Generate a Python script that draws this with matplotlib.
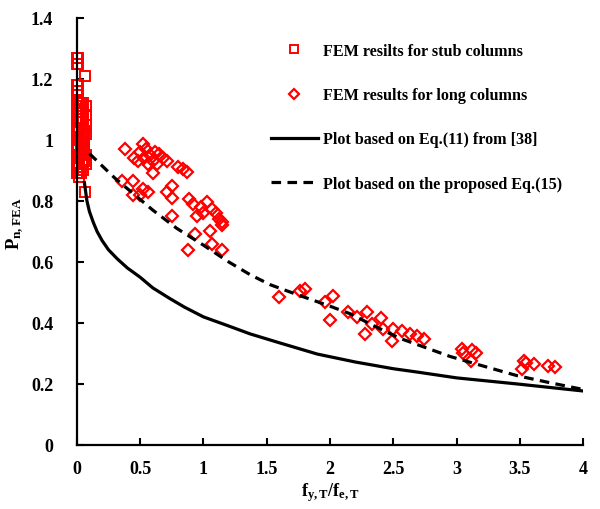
import matplotlib
matplotlib.use('Agg')
import matplotlib.pyplot as plt
import numpy as np

# FEM results, stub columns
stub_x = [0.005, 0.01, 0.005, 0.01, 0.065, 0.005, 0.01, 0.005, 0.01, 0.005, 0.01,
          0.02, 0.03, 0.04, 0.05, 0.005, 0.01, 0.02, 0.03, 0.04, 0.05, 0.07,
          0.005, 0.01, 0.02, 0.03, 0.05, 0.07, 0.005, 0.01, 0.02, 0.04, 0.06,
          0.005, 0.01, 0.02, 0.03, 0.05, 0.07, 0.005, 0.01, 0.03, 0.04, 0.06,
          0.005, 0.01, 0.02, 0.03, 0.05, 0.07, 0.005, 0.01, 0.02, 0.04, 0.06,
          0.0, 0.01, 0.02, 0.03, 0.05, 0.065, 0.07, 0.06, 0.07]
stub_y = [1.27, 1.27, 1.25, 1.25, 1.21, 1.18, 1.18, 1.16, 1.16, 1.13, 1.13,
          1.12, 1.12, 1.11, 1.12, 1.10, 1.10, 1.09, 1.09, 1.10, 1.09, 1.11,
          1.07, 1.07, 1.06, 1.06, 1.07, 1.08, 1.04, 1.04, 1.03, 1.04, 1.03,
          1.01, 1.01, 1.00, 1.00, 1.01, 1.02, 0.98, 0.98, 0.97, 0.98, 0.99,
          0.95, 0.95, 0.94, 0.95, 0.96, 0.95, 0.92, 0.92, 0.91, 0.92, 0.93,
          0.89, 0.89, 0.88, 0.89, 0.90, 0.83, 1.05, 0.97, 0.92]

# FEM results, long columns
long_x = [0.38, 0.45, 0.50, 0.52, 0.55, 0.48, 0.53, 0.58, 0.62, 0.56, 0.60,
          0.65, 0.68, 0.63, 0.71, 0.60, 0.80, 0.84, 0.87,
          0.36, 0.44, 0.44, 0.52, 0.50, 0.56, 0.75, 0.71, 0.75, 0.75,
          0.89, 0.92, 0.95, 1.00, 1.03, 1.07, 1.10, 1.12, 1.15, 1.05, 1.15,
          0.93, 0.88, 1.07, 1.15, 0.98,
          1.60, 1.76, 1.80, 1.96, 2.02, 2.00, 2.14, 2.21, 2.29, 2.28, 2.33,
          2.40, 2.42, 2.49, 2.50, 2.57, 2.63, 2.69, 2.74,
          3.04, 3.05, 3.12, 3.15, 3.11,
          3.53, 3.52, 3.61, 3.72, 3.78, 3.55]
long_y = [0.97, 0.94, 0.96, 0.985, 0.97, 0.93, 0.94, 0.95, 0.96, 0.92, 0.93,
          0.955, 0.94, 0.92, 0.93, 0.89, 0.91, 0.905, 0.895,
          0.865, 0.865, 0.82, 0.84, 0.82, 0.83, 0.85, 0.83, 0.81, 0.75,
          0.805, 0.79, 0.75, 0.76, 0.795, 0.775, 0.76, 0.74, 0.72, 0.70, 0.73,
          0.69, 0.64, 0.66, 0.64, 0.78,
          0.485, 0.505, 0.51, 0.47, 0.49, 0.41, 0.435, 0.42, 0.436, 0.364, 0.397,
          0.416, 0.38, 0.34, 0.38, 0.374, 0.364, 0.357, 0.348,
          0.315, 0.30, 0.31, 0.30, 0.276,
          0.275, 0.25, 0.266, 0.26, 0.255, 0.27]

# Eq.(11) from [38]
eq11_x = [0.06, 0.07, 0.08, 0.10, 0.13, 0.16, 0.20, 0.25, 0.32, 0.40, 0.50,
          0.60, 0.735, 0.85, 1.0, 1.2, 1.37, 1.6, 1.9, 2.2, 2.5, 2.69, 3.0,
          3.48, 3.75, 4.0]
eq11_y = [0.86, 0.83, 0.80, 0.765, 0.73, 0.70, 0.67, 0.64, 0.61, 0.58, 0.55,
          0.515, 0.48, 0.452, 0.42, 0.39, 0.364, 0.335, 0.298, 0.272, 0.25,
          0.239, 0.22, 0.20, 0.188, 0.177]

# proposed Eq.(15)
eq15_x = [0.10, 0.20, 0.30, 0.40, 0.50, 0.60, 0.79, 1.0, 1.2, 1.37, 1.53,
          1.76, 2.0, 2.16, 2.35, 2.55, 2.75, 2.95, 3.2, 3.48, 3.75, 4.0]
eq15_y = [0.955, 0.915, 0.875, 0.84, 0.805, 0.77, 0.71, 0.655, 0.60, 0.558,
          0.525, 0.49, 0.455, 0.43, 0.39, 0.35, 0.32, 0.29, 0.26, 0.227,
          0.203, 0.182]

plt.rcParams['font.family'] = 'Liberation Serif'
plt.rcParams['font.weight'] = 'bold'
plt.rcParams['mathtext.fontset'] = 'custom'
plt.rcParams['mathtext.rm'] = 'Liberation Serif:bold'
plt.rcParams['mathtext.it'] = 'Liberation Serif:bold'

fig = plt.figure(figsize=(6, 5.1), dpi=100)
ax = fig.add_axes([0.128, 0.1255, 0.844, 0.8375])

ax.plot(stub_x, stub_y, 's', ms=6.5, mfc='none', mec='red', mew=1.4,
        label='FEM resilts for stub columns', clip_on=False)
ax.plot(long_x, long_y, 'D', ms=6.5, mfc='none', mec='red', mew=1.6,
        label='FEM results for long columns')
ax.plot(eq11_x, eq11_y, '-', color='black', lw=2.3,
        label='Plot based on Eq.(11) from [38]')
ax.plot(eq15_x, eq15_y, '--', color='black', lw=2.3, dashes=(3, 2),
        label='Plot based on the proposed Eq.(15)')

ax.set_xlim(0, 4)
ax.set_ylim(0, 1.4)
ax.set_xticks(np.arange(0, 4.01, 0.5))
ax.set_xticklabels(['0', '0.5', '1', '1.5', '2', '2.5', '3', '3.5', '4'])
ax.set_yticks(np.arange(0, 1.41, 0.2))
ax.set_yticklabels(['0', '0.2', '0.4', '0.6', '0.8', '1', '1.2', '1.4'])
ax.tick_params(direction='in', length=5, width=1.5, labelsize=13)
ax.tick_params(axis='x', pad=11)
ax.tick_params(axis='y', pad=17)
for s in ['top', 'right']:
    ax.spines[s].set_visible(False)
for s in ['left', 'bottom']:
    ax.spines[s].set_linewidth(1.6)

ax.set_xlabel(r'$\mathrm{f_{y,T}/f_{e,T}}$', fontsize=13, labelpad=2)
ax.set_ylabel(r'$\mathrm{P_{n,FEA}}$', fontsize=13.5)
ax.yaxis.set_label_coords(-0.10, 0.52)

ax.legend(loc='upper left', bbox_to_anchor=(0.355, 0.975), frameon=False,
          fontsize=11.6, labelspacing=1.75, handlelength=2.9, handletextpad=0.35,
          markerscale=0.85)

fig.savefig('out.png', dpi=100)
